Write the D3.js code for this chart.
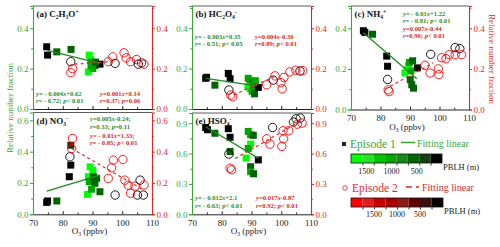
<!DOCTYPE html>
<html>
<head>
<meta charset="utf-8">
<script src="https://d3js.org/d3.v7.min.js"></script>
<style>
  body { margin: 0; background: #fff; }
  svg { font-family: "Liberation Serif", "Times New Roman", serif; }
</style>
</head>
<body>
<svg width="500" height="247"></svg>
<script>
// points: [O3 (ppbv), relative number fraction, PBLH (m)]
var ep1A = [[74.6,0.308,100],[74.9,0.267,100],[78.0,0.283,450],[82.8,0.295,450],[88.9,0.267,1700],[89.3,0.245,1700],[89.7,0.232,1100],[90.8,0.215,450],[88.6,0.184,1700],[90.1,0.200,1100],[89.5,0.215,1100],[92.5,0.222,100],[91.0,0.232,450]];
var ep2A = [[82.7,0.234,100],[82.7,0.180,1900],[83.3,0.200,1900],[95.3,0.234,1900],[96.8,0.258,1900],[97.6,0.226,100],[100.6,0.278,1900],[101.3,0.253,1900],[102.8,0.234,1900],[104.8,0.245,1900],[105.4,0.222,100],[107.3,0.222,1900],[106.5,0.228,300]];
var ep1B = [[74.6,0.152,100],[74.9,0.157,100],[77.7,0.118,450],[82.2,0.176,100],[82.8,0.150,100],[88.9,0.152,1100],[89.5,0.140,1100],[90.3,0.130,450],[88.8,0.110,1700],[89.6,0.100,1700],[90.2,0.088,1100],[91.0,0.075,450],[90.6,0.120,700],[92.3,0.107,100],[91.3,0.140,1100]];
var ep2B = [[82.4,0.094,100],[83.0,0.069,1900],[83.7,0.061,1900],[95.1,0.120,1900],[97.3,0.143,100],[97.9,0.164,1900],[99.9,0.130,1900],[100.3,0.100,1900],[100.9,0.156,1900],[102.9,0.184,1900],[104.9,0.192,1900],[106.3,0.188,100],[107.2,0.190,1900]];
var ep1C = [[74.2,0.388,100],[74.7,0.380,100],[77.3,0.371,450],[82.1,0.263,100],[82.4,0.213,100],[88.3,0.180,1700],[89.5,0.215,1700],[89.8,0.232,1100],[90.9,0.240,450],[90.1,0.147,450],[90.6,0.122,450],[91.2,0.105,450],[92.5,0.205,100],[89.0,0.195,1700],[90.3,0.190,1100]];
var ep2C = [[82.4,0.148,100],[82.6,0.097,1900],[82.9,0.088,1900],[97.0,0.272,100],[95.1,0.218,1900],[96.8,0.180,1900],[99.6,0.200,1900],[99.8,0.172,1900],[100.7,0.255,1900],[102.2,0.250,1900],[103.3,0.270,1900],[105.3,0.270,1900],[105.3,0.305,100],[106.9,0.300,100],[107.5,0.270,1900]];
var ep1D = [[74.6,0.076,100],[74.9,0.085,100],[78.0,0.085,450],[82.7,0.441,300],[82.7,0.314,100],[82.2,0.240,100],[89.2,0.303,1700],[90.1,0.280,1700],[88.6,0.240,1700],[88.9,0.208,1100],[90.3,0.240,450],[90.8,0.198,450],[91.4,0.230,450],[88.3,0.127,1700],[89.7,0.160,1100],[92.5,0.144,450]];
var ep2D = [[82.4,0.367,100],[83.3,0.484,1900],[83.0,0.420,1900],[95.3,0.229,1900],[96.4,0.297,1900],[97.0,0.346,1900],[97.6,0.123,100],[100.2,0.350,1900],[100.9,0.218,1900],[102.0,0.186,1900],[102.8,0.134,1900],[104.3,0.180,1900],[105.1,0.123,100],[106.0,0.218,100],[107.1,0.123,100],[107.3,0.187,1900]];
var ep1E = [[74.6,0.857,100],[75.2,0.835,100],[77.7,0.800,450],[82.2,0.845,100],[82.8,0.760,100],[82.8,0.620,450],[88.9,0.818,1100],[89.7,0.785,1100],[90.6,0.780,450],[89.7,0.693,1700],[88.9,0.650,1100],[88.2,0.555,1700],[89.7,0.470,450],[89.7,0.420,1100],[90.7,0.400,450],[92.3,0.537,100]];
var ep2E = [[82.4,0.594,100],[82.8,0.455,1900],[83.3,0.440,1900],[97.1,0.857,100],[95.1,0.745,1900],[96.2,0.693,1900],[100.2,0.670,1900],[100.6,0.825,1900],[100.8,0.745,1900],[102.5,0.825,1900],[104.1,0.910,100],[105.0,0.943,100],[106.4,0.950,100],[107.0,0.900,1900],[105.4,0.890,1900]];

// fitted line end points [O3, fraction]
var fit1 = { a: [[74.8,0.290],[92.5,0.226]], b: [[74.6,0.152],[91.7,0.114]], c: [[74.2,0.378],[92.3,0.152]], d: [[74.6,0.148],[92.5,0.250]], e: [[74.6,0.864],[92.3,0.555]] };
var fit2 = { a: [[84.0,0.222],[96.0,0.234]], b: [[84.0,0.070],[98.5,0.165]], c: [[81.5,0.100],[97.9,0.230]], d: [[83.0,0.420],[107.1,0.155]], e: [[84.5,0.550],[106.5,0.920]] };

var eq1 = { a: ["y= - 0.004x+0.62", "r= - 0.72; p< 0.01"], b: ["y= - 0.003x+0.35", "r= - 0.51; p< 0.05"], c: ["y= - 0.01x+1.22", "r= - 0.81; p< 0.01"], d: ["y=0.005x-0.24;", "r=0.33; p=0.11"], e: ["y= - 0.012x+2.1", "r= - 0.63; p< 0.01"] };
var eq2 = { a: ["y=0.001x+0.14", "r=0.37; p=0.06"], b: ["y=0.004x-0.30", "r=0.89; p< 0.01"], c: ["y=0.007x-0.44", "r=0.90; p< 0.01"], d: ["y= - 0.01x+1.33;", "r= - 0.85; p< 0.01"], e: ["y=0.017x-0.87", "r=0.92; p< 0.01"] };

var titles = {
  a: [["(a) C",""],["2","sub"],["H",""],["3","sub"],["O",""],["+","sup"]],
  b: [["(b) HC",""],["2","sub"],["O",""],["4","sub"],["-","sup"]],
  c: [["(c) NH",""],["4","sub"],["+","sup"]],
  d: [["(d) NO",""],["3","sub"],["-","sup"]],
  e: [["(e) HSO",""],["4","sub"],["-","sup"]]
};

var xTicks = [70, 80, 90, 100, 110];
var xMinor = [75, 85, 95, 105];
var barGreen = ["#00ff00", "#22e422", "#00c400", "#00a600", "#168a16", "#006400", "#123e12", "#000000"];
var barRed = ["#ff0000", "#e41e1e", "#c80000", "#aa0000", "#8c1818", "#640000", "#3a1010", "#000000"];
var barLabels = [1500, 1000, 500];

var GREEN = "#3aa63a", RED = "#d42a2a";

var panels = [
  { id: "a", x0: 33, x1: 152, y0: 6, y1: 109, ymax: 0.51, major: [0, 0.2, 0.4], minor: [0.1, 0.3, 0.5], e1: ep1A, e2: ep2A, xlab: false },
  { id: "b", x0: 192, x1: 311, y0: 6, y1: 109, ymax: 0.51, major: [0, 0.2, 0.4], minor: [0.1, 0.3, 0.5], e1: ep1B, e2: ep2B, xlab: false },
  { id: "c", x0: 351, x1: 469, y0: 6, y1: 109.5, ymax: 0.51, major: [0, 0.2, 0.4], minor: [0.1, 0.3, 0.5], e1: ep1C, e2: ep2C, xlab: true },
  { id: "d", x0: 33, x1: 152, y0: 112.5, y1: 214.3, ymax: 0.65, major: [0, 0.2, 0.4, 0.6], minor: [0.1, 0.3, 0.5], e1: ep1D, e2: ep2D, xlab: true },
  { id: "e", x0: 192, x1: 311, y0: 113, y1: 214.3, ymax: 1.0, major: [0, 0.3, 0.6, 0.9], minor: [0.15, 0.45, 0.75], e1: ep1E, e2: ep2E, xlab: true }
];

var svg = d3.select("svg");
var colG = d3.scaleQuantize().domain([0, 1800]).range(barGreen.slice().reverse());
var colR = d3.scaleQuantize().domain([0, 2000]).range(barRed.slice().reverse());

// text with sub/superscripts; every tspan carries its own shift back to the baseline
function richText(sel, parts) {
  var cur = 0;
  parts.forEach(function (p) {
    var off = p[1] === "sub" ? 2 : p[1] === "sup" ? -3.5 : 0;
    var t = sel.append("tspan").attr("dy", off - cur).text(p[0]);
    if (off !== 0) t.attr("font-size", "0.62em");
    cur = off;
  });
}

function eqText(g, x, y, str, color) {
  var t = g.append("text").attr("x", x).attr("y", y).attr("fill", color)
    .attr("font-size", 6.6).attr("font-weight", "bold");
  str.split(/([xyrp])/).forEach(function (s) {
    if (!s) return;
    var sp = t.append("tspan").text(s);
    if (/^[xyrp]$/.test(s)) sp.attr("font-style", "italic");
  });
}

panels.forEach(function (p) {
  var x = d3.scaleLinear().domain([70, 110]).range([p.x0, p.x1]);
  var y = d3.scaleLinear().domain([0, p.ymax]).range([p.y1, p.y0]);
  var g = svg.append("g");

  // frame top
  g.append("line").attr("x1", p.x0).attr("x2", p.x1).attr("y1", p.y0).attr("y2", p.y0).attr("stroke", "#333").attr("stroke-width", 0.8);

  // x axis
  var xa = g.append("g").attr("transform", "translate(0," + p.y1 + ")")
    .call(d3.axisBottom(x).tickValues(xTicks).tickSize(-3).tickPadding(5).tickFormat(p.xlab ? d3.format("d") : ""));
  xa.select(".domain").attr("stroke", "#222");
  xa.selectAll("text").attr("font-size", 9).attr("fill", "#222").attr("font-family", "Liberation Serif");
  xa.selectAll("line").attr("stroke", "#222");
  var xm = g.append("g").attr("transform", "translate(0," + p.y1 + ")")
    .call(d3.axisBottom(x).tickValues(xMinor).tickSize(-1.8).tickFormat(""));
  xm.select(".domain").remove();
  xm.selectAll("line").attr("stroke", "#222");
  if (!p.xlab) xa.selectAll("text").remove();
  xm.selectAll("text").remove();

  // left axis
  var la = g.append("g").attr("transform", "translate(" + p.x0 + ",0)")
    .call(d3.axisLeft(y).tickValues(p.major).tickSize(3).tickPadding(1.5).tickFormat(d3.format(".1f")));
  la.select(".domain").attr("stroke", GREEN).attr("stroke-width", 1.1);
  la.selectAll("line").attr("stroke", GREEN);
  la.selectAll("text").attr("fill", GREEN).attr("font-size", 9).attr("font-family", "Liberation Serif");
  var lm = g.append("g").attr("transform", "translate(" + p.x0 + ",0)")
    .call(d3.axisLeft(y).tickValues(p.minor).tickSize(1.8).tickFormat(""));
  lm.select(".domain").remove();
  lm.selectAll("line").attr("stroke", GREEN);
  lm.selectAll("text").remove();

  // right axis
  var ra = g.append("g").attr("transform", "translate(" + p.x1 + ",0)")
    .call(d3.axisRight(y).tickValues(p.major).tickSize(3).tickPadding(1.5).tickFormat(d3.format(".1f")));
  ra.select(".domain").attr("stroke", RED).attr("stroke-width", 1.1);
  ra.selectAll("line").attr("stroke", RED);
  ra.selectAll("text").attr("fill", RED).attr("font-size", 9).attr("font-family", "Liberation Serif");
  var rm = g.append("g").attr("transform", "translate(" + p.x1 + ",0)")
    .call(d3.axisRight(y).tickValues(p.minor).tickSize(1.8).tickFormat(""));
  rm.select(".domain").remove();
  rm.selectAll("line").attr("stroke", RED);
  rm.selectAll("text").remove();

  // episode 1 squares
  g.selectAll(".sq").data(p.e1).enter().append("rect")
    .attr("x", function (d) { return x(d[0]) - 3.5; })
    .attr("y", function (d) { return y(d[1]) - 3.5; })
    .attr("width", 7).attr("height", 7)
    .attr("fill", function (d) { return colG(d[2]); });

  // episode 2 circles
  g.selectAll(".ci").data(p.e2).enter().append("circle")
    .attr("cx", function (d) { return x(d[0]); })
    .attr("cy", function (d) { return y(d[1]); })
    .attr("r", 4.2).attr("fill", "none").attr("stroke-width", 0.9)
    .attr("stroke", function (d) { return colR(d[2]); });

  var line = d3.line().x(function (d) { return x(d[0]); }).y(function (d) { return y(d[1]); });
  g.append("path").datum(fit1[p.id]).attr("d", line).attr("stroke", "#1f8a1f").attr("stroke-width", 1.3).attr("fill", "none");
  g.append("path").datum(fit2[p.id]).attr("d", line).attr("stroke", RED).attr("stroke-width", 1.2)
    .attr("stroke-dasharray", "3,3").attr("fill", "none");

  // panel title
  richText(g.append("text").attr("x", p.x0 + 3.5).attr("y", p.y0 + 11).attr("font-size", 9).attr("font-weight", "bold").attr("fill", "#111"), titles[p.id]);

  if (p.xlab) {
    var xt = g.append("text").attr("x", (p.x0 + p.x1) / 2 - 3).attr("y", p.y1 + 20).attr("text-anchor", "middle")
      .attr("font-size", 9).attr("fill", "#222");
    richText(xt, [["O",""],["3","sub"],[" (ppbv)",""]]);
  }
});

// equation annotations
eqText(svg, 36, 96, eq1.a[0], "#2e8b2e"); eqText(svg, 36, 102.5, eq1.a[1], "#2e8b2e");
eqText(svg, 100, 96, eq2.a[0], RED); eqText(svg, 100, 102.5, eq2.a[1], RED);
eqText(svg, 195, 39, eq1.b[0], "#2e8b2e"); eqText(svg, 195, 45.5, eq1.b[1], "#2e8b2e");
eqText(svg, 255, 39, eq2.b[0], RED); eqText(svg, 255, 45.5, eq2.b[1], RED);
eqText(svg, 403, 16, eq1.c[0], "#2e8b2e"); eqText(svg, 403, 23, eq1.c[1], "#2e8b2e");
eqText(svg, 403, 31, eq2.c[0], RED); eqText(svg, 403, 38, eq2.c[1], RED);
eqText(svg, 90, 121, eq1.d[0], "#2e8b2e"); eqText(svg, 90, 128.5, eq1.d[1], "#2e8b2e");
eqText(svg, 90, 137.5, eq2.d[0], RED); eqText(svg, 90, 145, eq2.d[1], RED);
eqText(svg, 195, 200, eq1.e[0], "#2e8b2e"); eqText(svg, 195, 207.5, eq1.e[1], "#2e8b2e");
eqText(svg, 256, 200, eq2.e[0], RED); eqText(svg, 256, 207.5, eq2.e[1], RED);

// axis titles
svg.append("text").attr("transform", "translate(13,108) rotate(-90)").attr("text-anchor", "middle")
  .attr("font-size", 9).attr("fill", GREEN).text("Relative number fraction");
svg.append("text").attr("transform", "translate(489,59) rotate(90)").attr("text-anchor", "middle")
  .attr("font-size", 9).attr("fill", RED).text("Relative number fraction");

// legend
var lg = svg.append("g");
lg.append("rect").attr("x", 342).attr("y", 142).attr("width", 4).attr("height", 4).attr("fill", "#222");
lg.append("text").attr("x", 350).attr("y", 148).attr("font-size", 11.5).attr("fill", GREEN).text("Episode 1");
lg.append("line").attr("x1", 401).attr("x2", 415).attr("y1", 142.5).attr("y2", 142.5).attr("stroke", GREEN).attr("stroke-width", 1.5);
lg.append("text").attr("x", 417).attr("y", 147).attr("font-size", 10).attr("fill", GREEN).text("Fitting linear");

lg.append("circle").attr("cx", 345).attr("cy", 188).attr("r", 2.3).attr("fill", "none").attr("stroke", RED).attr("stroke-width", 0.8);
lg.append("text").attr("x", 352).attr("y", 192).attr("font-size", 11.5).attr("fill", RED).text("Episode 2");
lg.append("line").attr("x1", 406).attr("x2", 420).attr("y1", 187).attr("y2", 187).attr("stroke", RED).attr("stroke-width", 1.5).attr("stroke-dasharray", "6,4,3");
lg.append("text").attr("x", 422).attr("y", 191).attr("font-size", 10).attr("fill", RED).text("Fitting linear");

function colorBar(colors, maxV, x0, x1, yTop, labY, pblhY) {
  var s = d3.scaleLinear().domain([maxV, 0]).range([x0, x1]);
  var step = maxV / colors.length;
  var bg = svg.append("g");
  bg.selectAll("rect").data(colors).enter().append("rect")
    .attr("x", function (d, i) { return s(maxV - i * step); })
    .attr("y", yTop)
    .attr("width", function (d, i) { return s(maxV - (i + 1) * step) - s(maxV - i * step); })
    .attr("height", 9)
    .attr("fill", function (d) { return d; });
  bg.append("rect").attr("x", x0).attr("y", yTop).attr("width", x1 - x0).attr("height", 9)
    .attr("fill", "none").attr("stroke", "#111").attr("stroke-width", 0.8);
  var ax = bg.append("g").attr("transform", "translate(0," + (yTop + 9) + ")")
    .call(d3.axisBottom(s).tickValues(d3.range(1, colors.length).map(function (i) { return i * step; })).tickSize(2.5).tickFormat(""));
  ax.select(".domain").remove();
  ax.selectAll("line").attr("stroke", "#333");
  ax.selectAll("text").remove();
  bg.selectAll(".bl").data(barLabels).enter().append("text")
    .attr("x", function (d) { return s(d); }).attr("y", labY).attr("text-anchor", "middle")
    .attr("font-size", 8).attr("fill", "#222").text(function (d) { return d; });
  bg.append("text").attr("x", x1 + 1).attr("y", pblhY).attr("font-size", 8.5).attr("fill", "#222").text("PBLH (m)");
}
colorBar(barGreen, 1800, 351, 442, 154, 174, 170);
colorBar(barRed, 2000, 351, 443, 198, 217, 214);
</script>
</body>
</html>
